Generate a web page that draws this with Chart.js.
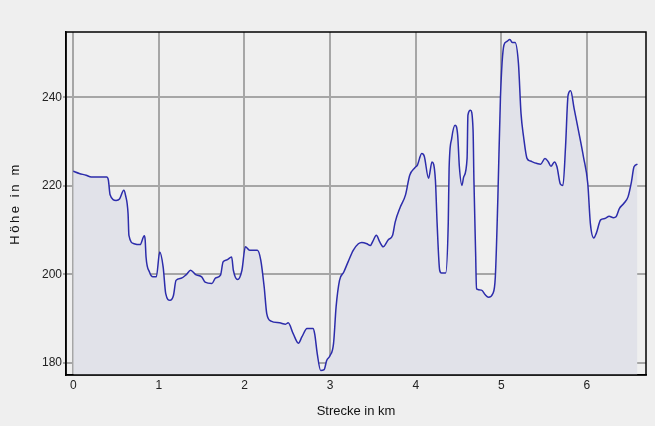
<!DOCTYPE html>
<html>
<head>
<meta charset="utf-8">
<script src="https://cdn.jsdelivr.net/npm/chart.js@4"></script>
<style>
  body { margin: 0; background: #efefef; }
  canvas { display: block; }
</style>
</head>
<body>
<canvas id="profil" width="655" height="426"></canvas>
<script>
const strecke = [
  0.00, 0.07, 0.15, 0.21, 0.39, 0.41, 0.43, 0.50, 0.54, 0.59, 0.61, 0.64, 0.65, 0.71, 0.78, 0.83, 0.84, 0.85, 0.89, 0.93,
  0.97, 1.01, 1.05, 1.08, 1.13, 1.17, 1.20, 1.26, 1.32, 1.37, 1.43, 1.50, 1.54, 1.62, 1.66, 1.72, 1.75, 1.79, 1.85, 1.87,
  1.92, 1.97, 2.01, 2.06, 2.15, 2.19, 2.23, 2.26, 2.31, 2.41, 2.48, 2.51, 2.57, 2.63, 2.67, 2.73, 2.80, 2.82, 2.85, 2.89,
  2.93, 2.96, 3.00, 3.04, 3.07, 3.11, 3.16, 3.21, 3.27, 3.33, 3.37, 3.43, 3.47, 3.50, 3.54, 3.58, 3.62, 3.68, 3.73, 3.76,
  3.82, 3.88, 3.93, 3.99, 4.02, 4.07, 4.10, 4.15, 4.19, 4.23, 4.25, 4.28, 4.30, 4.35, 4.38, 4.39, 4.42, 4.46, 4.49, 4.51,
  4.54, 4.56, 4.60, 4.61, 4.64, 4.67, 4.68, 4.70, 4.71, 4.77, 4.81, 4.85, 4.90, 4.93, 4.96, 4.99, 5.03, 5.06, 5.10, 5.13,
  5.16, 5.20, 5.23, 5.26, 5.30, 5.34, 5.41, 5.46, 5.51, 5.55, 5.58, 5.62, 5.65, 5.69, 5.72, 5.75, 5.78, 5.81, 5.85, 5.90,
  5.96, 6.01, 6.04, 6.08, 6.11, 6.16, 6.21, 6.26, 6.31, 6.34, 6.38, 6.43, 6.48, 6.52, 6.55, 6.59
]
const hoehe = [
  223.3, 222.8, 222.4, 222.0, 222.0, 221.3, 218.0, 216.7, 217.0, 219.0, 217.9, 213.7, 208.8, 206.9, 206.7, 208.7, 207.7, 203.9, 200.5, 199.4,
  199.4, 205.0, 201.6, 195.6, 194.1, 195.2, 198.6, 199.1, 199.9, 200.9, 199.9, 199.4, 198.2, 197.9, 199.1, 199.8, 202.8, 203.2, 203.9, 200.9,
  198.8, 200.9, 206.2, 205.4, 205.4, 203.2, 197.1, 191.1, 189.4, 189.0, 188.7, 189.0, 186.5, 184.4, 185.8, 187.7, 187.7, 186.5, 182.0, 178.2,
  178.4, 180.5, 181.6, 184.3, 192.6, 198.6, 200.5, 202.8, 205.4, 206.9, 207.2, 206.9, 206.5, 207.5, 208.8, 207.3, 206.2, 207.8, 208.8, 211.8,
  215.2, 217.9, 222.4, 224.1, 224.7, 227.3, 226.7, 221.7, 225.4, 221.3, 211.5, 200.9, 200.3, 200.3, 211.5, 223.9, 230.7, 233.7, 231.5, 224.3,
  220.1, 222.0, 226.2, 236.0, 237.1, 232.6, 221.3, 204.7, 196.7, 196.4, 195.4, 194.8, 195.6, 199.4, 217.5, 240.1, 251.8, 252.6, 253.1, 252.4,
  252.4, 247.7, 236.4, 231.1, 226.2, 225.6, 225.1, 224.9, 226.2, 225.4, 224.4, 225.4, 224.3, 220.4, 220.1, 228.8, 240.5, 241.5, 237.5, 232.6,
  226.5, 220.5, 211.5, 208.2, 209.3, 212.3, 212.6, 213.1, 212.8, 213.0, 214.9, 216.0, 217.5, 220.9, 224.3, 224.9
]
const xTicks = [0, 1, 2, 3, 4, 5, 6]
const yTicks = [180, 200, 220, 240]

const schrift = { family: 'Liberation Sans, Arial, sans-serif', size: 12 }

const rahmen = {
  id: 'rahmen',
  beforeDraw(chart) {
    const ctx = chart.ctx
    ctx.save()
    ctx.fillStyle = '#efefef'
    ctx.fillRect(0, 0, chart.width, chart.height)
    ctx.restore()
  },
  afterDraw(chart) {
    const a = chart.chartArea
    const ctx = chart.ctx
    ctx.save()
    ctx.strokeStyle = '#000'
    ctx.lineWidth = 1.5
    ctx.strokeRect(a.left, a.top, a.right - a.left, a.bottom - a.top)
    ctx.restore()
  }
}

const punkte = strecke.map((km, i) => ({ x: km, y: hoehe[i] }))

const chart = new Chart(document.getElementById('profil'), {
  type: 'line',
  data: {
    datasets: [{
      data: punkte,
      borderColor: '#2c2cab',
      borderWidth: 1.5,
      backgroundColor: '#e1e2e9',
      fill: 'start',
      pointRadius: 0,
      cubicInterpolationMode: 'monotone'
    }]
  },
  options: {
    responsive: false,
    animation: false,
    layout: { padding: { left: 0, top: 32, right: 9, bottom: 0 } },
    plugins: { legend: { display: false }, tooltip: { enabled: false } },
    scales: {
      x: {
        type: 'linear',
        min: -0.085,
        max: 6.69,
        afterFit: s => { s.height = 51 },
        afterBuildTicks: s => { s.ticks = xTicks.map(v => ({ value: v })) },
        grid: { color: '#a6a6a6', lineWidth: 2, drawTicks: false },
        border: { color: '#000', width: 1.5 },
        ticks: { font: schrift, color: '#222', padding: 3 },
        title: { display: true, text: 'Strecke in km', font: { family: schrift.family, size: 13 }, color: '#111', padding: { top: 0, bottom: 7 } }
      },
      y: {
        min: 177.2,
        max: 254.8,
        afterFit: s => { s.width = 66 },
        afterBuildTicks: s => { s.ticks = yTicks.map(v => ({ value: v })) },
        grid: { color: '#a6a6a6', lineWidth: 2, tickLength: 3 },
        border: { color: '#000', width: 1.5 },
        ticks: { font: schrift, color: '#222', padding: 1 },
        title: { display: true, text: 'Höhe in m', font: { family: schrift.family, size: 13 }, color: '#111', padding: { top: 8, bottom: 0 } }
      }
    }
  },
  plugins: [rahmen]
})

// y-Achsentitel gesperrt wie im Original
const sy = chart.scales.y
const titelOrig = sy.drawTitle.bind(sy)
sy.drawTitle = function () {
  const c = this.ctx
  c.save()
  c.letterSpacing = '2.6px'
  titelOrig()
  c.restore()
}
chart.draw()
</script>
</body>
</html>
